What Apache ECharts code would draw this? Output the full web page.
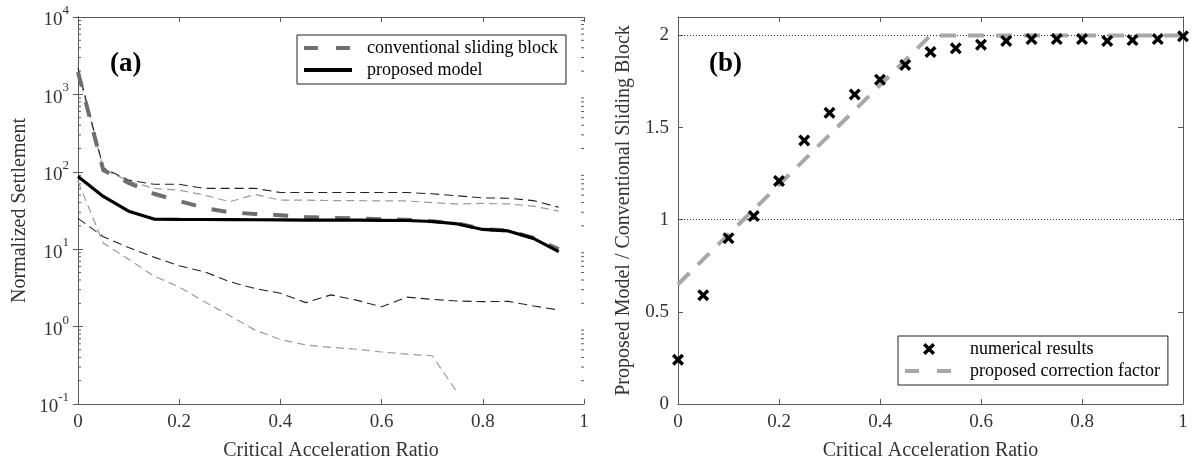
<!DOCTYPE html>
<html>
<head>
<meta charset="utf-8">
<script src="https://cdn.jsdelivr.net/npm/echarts@6/dist/echarts.min.js"></script>
<style>html,body{margin:0;padding:0;background:#fff}#c{width:1194px;height:469px}</style>
</head>
<body>
<div id="c"></div>
<script>
// ---------- data: panel (a) ----------
const ratioA = [0,0.05,0.1,0.15,0.2,0.25,0.3,0.35,0.4,0.45,0.5,0.55,0.6,0.65,0.7,0.75,0.8,0.85,0.9,0.95];
const conventional = [1950,105,72,52,42,34,30,28.5,27.5,26,25.4,24.9,24.4,24,23,21.5,18.2,17.4,14,10];
const proposed     = [87,48,31,24.5,24.3,24.2,24.1,24,23.9,23.8,23.8,23.7,23.6,23.5,22.8,21.2,18,17.2,13.8,9.3];
const upperBlack   = [2200,112,78,69,69,61,61,61,54,54,54,54,54,54,52,49,46,45.6,42.4,34.8];
const upperGray    = [2000,108,76,61,58,50,41,51,43,43,42.5,42.5,42,42,40,38.4,39,38.4,36,31];
const lowerBlack   = [25,14.5,10.5,7.9,6.1,5.1,3.8,3.1,2.7,2.04,2.57,2.2,1.8,2.4,2.25,2.14,2.1,2.12,1.85,1.64];
const ratioLowGray = [0,0.05,0.1,0.15,0.2,0.25,0.3,0.35,0.4,0.45,0.5,0.55,0.6,0.65,0.7,0.75];
const lowerGray    = [75,12,7.4,4.5,3.25,2.1,1.38,0.9,0.68,0.58,0.54,0.51,0.47,0.44,0.42,0.14];
const logTicksMinor = [0.2,0.3,0.4,0.5,0.6,0.7,0.8,0.9,2,3,4,5,6,7,8,9,20,30,40,50,60,70,80,90,200,300,400,500,600,700,800,900,2000,3000,4000,5000,6000,7000,8000,9000];

// ---------- data: panel (b) ----------
const ratioB = [0,0.05,0.1,0.15,0.2,0.25,0.3,0.35,0.4,0.45,0.5,0.55,0.6,0.65,0.7,0.75,0.8,0.85,0.9,0.95,1.0];
const numerical = [0.24,0.59,0.9,1.02,1.21,1.43,1.58,1.68,1.76,1.84,1.91,1.93,1.95,1.97,1.98,1.98,1.98,1.97,1.975,1.98,1.995];
const corrX = [0,0.5,1];
const corrY = [0.65,2,2];
const refLines = [1,2];

const FONT = '"Liberation Serif","Times New Roman",serif';
const AX = '#5a5a5a';
const TXT = '#333';
const xPath = 'path://M2,0 L5,3 L8,0 L10,2 L7,5 L10,8 L8,10 L5,7 L2,10 L0,8 L3,5 L0,2 Z';

const pair = (xs, ys) => ys.map((y, i) => [xs[i], y]);

function xAxisCfg(grid, withName) {
  return {
    gridIndex: grid, type: 'value', min: 0, max: 1, interval: 0.2, position: 'bottom',
    axisLine: {show: true, onZero: false, lineStyle: {color: AX, width: 1}},
    axisTick: {show: true, inside: true, length: 5, lineStyle: {color: AX}},
    splitLine: {show: false},
    axisLabel: {fontFamily: FONT, fontSize: 19, color: TXT, margin: 9},
    name: withName ? 'Critical Acceleration Ratio' : '',
    nameLocation: 'middle', nameGap: 37,
    nameTextStyle: {fontFamily: FONT, fontSize: 20, color: TXT}
  };
}
function xTopCfg(grid) {
  return {
    gridIndex: grid, type: 'value', min: 0, max: 1, interval: 0.2, position: 'top',
    axisLine: {show: true, onZero: false, lineStyle: {color: AX, width: 1}},
    axisTick: {show: true, inside: true, length: 5, lineStyle: {color: AX}},
    splitLine: {show: false}, axisLabel: {show: false}
  };
}

const chart = echarts.init(document.getElementById('c'), null, {renderer: 'canvas'});

const option = {
  animation: false,
  backgroundColor: '#fff',
  grid: [
    {left: 78, top: 17, width: 506, height: 387, show: false},
    {left: 678, top: 17, width: 505, height: 387, show: false}
  ],
  title: [
    {text: '(a)', left: 105, top: 46, textStyle: {fontFamily: FONT, fontSize: 27, fontWeight: 'bold', color: '#000'}},
    {text: '(b)', left: 704, top: 46, textStyle: {fontFamily: FONT, fontSize: 27, fontWeight: 'bold', color: '#000'}}
  ],
  legend: [
    {
      data: [
        {name: 'conventional sliding block', itemStyle: {opacity: 0},
          lineStyle: {color: '#6e6e6e', width: 4, type: [14, 18]}},
        {name: 'proposed model', itemStyle: {opacity: 0},
          lineStyle: {color: '#000', width: 4}}
      ],
      orient: 'vertical', left: 297, top: 35,
      padding: [4, 8, 5, 5], itemGap: 4, itemWidth: 48, itemHeight: 14,
      borderColor: '#222', borderWidth: 1, backgroundColor: '#fff',
      textStyle: {fontFamily: FONT, fontSize: 18, color: '#000', padding: [0, 0, 0, 10]}
    },
    {
      data: [
        {name: 'numerical results', icon: xPath, itemStyle: {color: '#000', opacity: 1}},
        {name: 'proposed correction factor', itemStyle: {opacity: 0},
          lineStyle: {color: '#a8a8a8', width: 4, type: [14, 18]}}
      ],
      orient: 'vertical', left: 898, top: 336,
      padding: [4, 8, 5, 5], itemGap: 4, itemWidth: 48, itemHeight: 12,
      borderColor: '#222', borderWidth: 1, backgroundColor: '#fff',
      textStyle: {fontFamily: FONT, fontSize: 18, color: '#000', padding: [0, 0, 0, 12]}
    }
  ],
  xAxis: [xAxisCfg(0, true), xTopCfg(0), xAxisCfg(1, true), xTopCfg(1)],
  yAxis: [
    {
      gridIndex: 0, type: 'log', logBase: 10, min: 0.1, max: 10000, position: 'left',
      axisLine: {show: true, lineStyle: {color: AX}},
      axisTick: {show: true, inside: true, length: 5, lineStyle: {color: AX}},
      splitLine: {show: false},
      axisLabel: {
        margin: 9, color: TXT, fontFamily: FONT,
        formatter: v => '{b|10}{s|' + Math.round(Math.log10(v)) + '}',
        rich: {
          b: {fontFamily: FONT, fontSize: 19, color: TXT, lineHeight: 26, verticalAlign: 'bottom'},
          s: {fontFamily: FONT, fontSize: 13, color: TXT, lineHeight: 14, verticalAlign: 'top'}
        }
      },
      name: 'Normalized Settlement', nameLocation: 'middle', nameGap: 48,
      nameTextStyle: {fontFamily: FONT, fontSize: 20, color: TXT}
    },
    {
      gridIndex: 0, type: 'log', logBase: 10, min: 0.1, max: 10000, position: 'right',
      axisLine: {show: true, lineStyle: {color: AX}},
      axisTick: {show: true, inside: true, length: 5, lineStyle: {color: AX}},
      splitLine: {show: false}, axisLabel: {show: false}
    },
    {
      gridIndex: 1, type: 'value', min: 0, max: 2.1, interval: 0.5, position: 'left',
      axisLine: {show: true, onZero: false, lineStyle: {color: AX}},
      axisTick: {show: true, inside: true, length: 5, lineStyle: {color: AX}},
      splitLine: {show: false},
      axisLabel: {fontFamily: FONT, fontSize: 19, color: TXT, margin: 9,
        formatter: v => (v > 2.05 ? '' : String(v))},
      name: 'Proposed Model / Conventional Sliding Block', nameLocation: 'middle', nameGap: 44,
      nameTextStyle: {fontFamily: FONT, fontSize: 20, color: TXT}
    },
    {
      gridIndex: 1, type: 'value', min: 0, max: 2.1, interval: 0.5, position: 'right',
      axisLine: {show: true, onZero: false, lineStyle: {color: AX}},
      axisTick: {show: true, inside: true, length: 5, lineStyle: {color: AX}},
      splitLine: {show: false}, axisLabel: {show: false}
    }
  ],
  series: [
    {
      name: 'minorTicks', type: 'custom', xAxisIndex: 0, yAxisIndex: 0, silent: true,
      data: logTicksMinor.map(v => [0, v]),
      renderItem: (params, api) => {
        const v = api.value(1);
        const p0 = api.coord([0, v]);
        const p1 = api.coord([1, v]);
        return {type: 'group', children: [
          {type: 'line', shape: {x1: p0[0], y1: p0[1], x2: p0[0] + 3, y2: p0[1]}, style: {stroke: AX, lineWidth: 1}},
          {type: 'line', shape: {x1: p1[0] - 3, y1: p1[1], x2: p1[0], y2: p1[1]}, style: {stroke: AX, lineWidth: 1}}
        ]};
      }
    },
    {
      name: 'upperGray', type: 'line', xAxisIndex: 0, yAxisIndex: 0, data: pair(ratioA, upperGray),
      symbol: 'none', z: 2, lineStyle: {color: '#9a9a9a', width: 1.2, type: [8, 5]}
    },
    {
      name: 'upperBlack', type: 'line', xAxisIndex: 0, yAxisIndex: 0, data: pair(ratioA, upperBlack),
      symbol: 'none', z: 2, lineStyle: {color: '#222', width: 1.1, type: [9, 5]}
    },
    {
      name: 'lowerBlack', type: 'line', xAxisIndex: 0, yAxisIndex: 0, data: pair(ratioA, lowerBlack),
      symbol: 'none', z: 2, lineStyle: {color: '#222', width: 1.1, type: [9, 5]}
    },
    {
      name: 'lowerGray', type: 'line', xAxisIndex: 0, yAxisIndex: 0, data: pair(ratioLowGray, lowerGray),
      symbol: 'none', z: 2, lineStyle: {color: '#9a9a9a', width: 1.2, type: [8, 5]}
    },
    {
      name: 'conventional sliding block', type: 'line', xAxisIndex: 0, yAxisIndex: 0, data: pair(ratioA, conventional),
      symbol: 'none', z: 3, itemStyle: {color: '#6e6e6e'},
      lineStyle: {color: '#6e6e6e', width: 4, type: [15, 16]}
    },
    {
      name: 'proposed model', type: 'line', xAxisIndex: 0, yAxisIndex: 0, data: pair(ratioA, proposed),
      symbol: 'none', z: 4, itemStyle: {color: '#000'},
      lineStyle: {color: '#000', width: 3.2}
    },
    {
      name: 'proposed correction factor', type: 'line', xAxisIndex: 2, yAxisIndex: 2, data: pair(corrX, corrY),
      symbol: 'none', z: 3, itemStyle: {color: '#a8a8a8'},
      lineStyle: {color: '#a8a8a8', width: 4, type: [16, 12]}
    },
    {
      name: 'numerical results', type: 'scatter', xAxisIndex: 2, yAxisIndex: 2, data: pair(ratioB, numerical),
      symbol: xPath, symbolSize: 12, symbolKeepAspect: true, z: 5,
      itemStyle: {color: '#000', opacity: 1},
      markLine: {
        silent: true, symbol: 'none', label: {show: false}, z: 1,
        lineStyle: {color: '#333', width: 1, type: [1, 2]},
        data: refLines.map(v => ({yAxis: v}))
      }
    }
  ]
};
chart.setOption(option);
</script>
</body>
</html>
